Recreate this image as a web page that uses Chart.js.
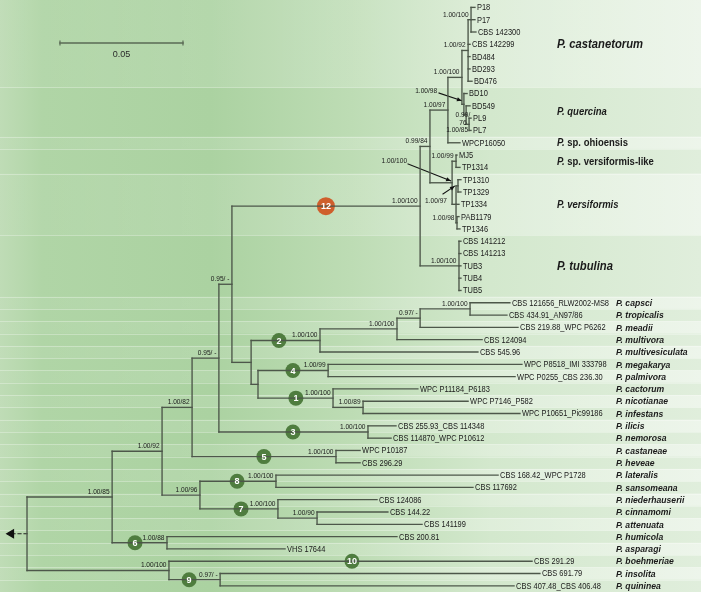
<!DOCTYPE html>
<html><head><meta charset="utf-8">
<script src="https://cdn.jsdelivr.net/npm/chart.js@4/dist/chart.umd.min.js"></script>
<style>html,body{margin:0;padding:0;background:#fff}canvas{display:block}</style>
</head><body>
<canvas id="c" width="701" height="592"></canvas>
<script>
// ---------------- DATA ----------------
const leafNames = ["P18","P17","CBS 142300","CBS 142299","BD484","BD293","BD476","BD10","BD549","PL9","PL7","WPCP16050","MJ5","TP1314","TP1310","TP1329","TP1334","PAB1179","TP1346","CBS 141212","CBS 141213","TUB3","TUB4","TUB5","CBS 121656_RLW2002-MS8","CBS 434.91_AN97/86","CBS 219.88_WPC P6262","CBS 124094","CBS 545.96","WPC P8518_IMI 333798","WPC P0255_CBS 236.30","WPC P11184_P6183","WPC P7146_P582","WPC P10651_Pic99186","CBS 255.93_CBS 114348","CBS 114870_WPC P10612","WPC P10187","CBS 296.29","CBS 168.42_WPC P1728","CBS 117692","CBS 124086","CBS 144.22","CBS 141199","CBS 200.81","VHS 17644","CBS 291.29","CBS 691.79","CBS 407.48_CBS 406.48"];
// cumulative distance from root (substitutions/site)
const leafDepths = [0.1821,0.1821,0.1825,0.1801,0.1801,0.1801,0.1809,0.1789,0.1801,0.1805,0.1805,0.1760,0.1748,0.1760,0.1764,0.1764,0.1756,0.1756,0.1760,0.1764,0.1764,0.1764,0.1764,0.1764,0.1963,0.1951,0.1996,0.1850,0.1833,0.2012,0.1984,0.1589,0.1793,0.2004,0.1500,0.1480,0.1354,0.1354,0.1915,0.1813,0.1423,0.1467,0.1606,0.1504,0.1049,0.2053,0.2085,0.1980];
// species for leaves 24..47
const speciesNames = ["capsci","tropicalis","meadii","multivora","multivesiculata","megakarya","palmivora","cactorum","nicotianae","infestans","ilicis","nemorosa","castaneae","heveae","lateralis","sansomeana","niederhauserii","cinnamomi","attenuata","humicola","asparagi","boehmeriae","insolita","quininea"];
const speciesFirstLeaf = 24;
// clade labels for the upper part
const cladeNames = ["castanetorum","quercina","sp. ohioensis","sp. versiformis-like","versiformis","tubulina"];
const cladeFirstLeaf = [0,7,11,12,14,19];
const cladeLastLeaf = [6,10,11,13,18,23];

const nodeIds = ["root","A","B","C","D","E","F","G","N","n2","P","Q","R","n4","n1","n1b","n3","n5","n8","n7","n7b","n6","bot","n9","n12","H","L","K","cast","c1","querc","q1","q2","M","mv","vers","vs1","vs2","tub"];
const nodeDepths = [0,0.0346,0.0549,0.0671,0.0703,0.0780,0.0833,0.0911,0.0939,0.1191,0.1504,0.1598,0.1801,0.1224,0.1244,0.1366,0.1386,0.1256,0.1012,0.1020,0.1179,0.0569,0.0577,0.0785,0.1598,0.1638,0.1711,0.1768,0.1793,0.1805,0.1776,0.1785,0.1797,0.1728,0.1744,0.1744,0.1752,0.1748,0.1756];
const nodeSupports = ["","1.00/85","1.00/92","1.00/82","1.00/96","0.95/ -","0.95/ -","","","1.00/100","1.00/100","0.97/ -","1.00/100","1.00/99","1.00/100","1.00/89","1.00/100","1.00/100","1.00/100","1.00/100","1.00/90","1.00/88","1.00/100","0.97/ -","1.00/100","0.99/84","1.00/97","1.00/100","1.00/92","1.00/100","1.00/98","0.99/76","1.00/85","1.00/100","1.00/99","1.00/97","","1.00/98","1.00/100"];
const nodeKids = [["A","bot"],["B","n6"],["C","D"],["E","n5"],["n8","n7"],["F","n3"],["n12","G"],["n2","N"],["n4","n1"],["P",28],["Q",27],["R",26],[24,25],[29,30],[31,"n1b"],[32,33],[34,35],[36,37],[38,39],[40,"n7b"],[41,42],[43,44],[45,"n9"],[46,47],["H","tub"],["L","M"],["K",11],["cast","querc"],["c1",3,4,5,6],[0,1,2],[7,"q1"],[8,"q2"],[9,10],["mv","vers"],[12,13],["vs1",16,"vs2"],[14,15],[17,18],[19,20,21,22,23]];

// numbered clade markers
const markerLabels = ["12","2","4","1","3","5","8","7","6","10","9"];
const markerOn = ["n12","n2","n4","n1","n3","n5","n8","n7","n6",45,"n9"];
const markerDepths = [0.1215,0.1024,0.1081,0.1093,0.1081,0.0963,0.0854,0.0870,0.0439,0.1321,0.0659];

const scaleBarLength = 0.05;

// ---------------- LAYOUT (not data) ----------------
const L = {
  xMin: -0.01098, xMax: 0.27398, yMin: -0.6, yMax: 47.5,
  speciesX: 0.2394, cladeX: 0.2154,
  scaleBarX: 0.0134, scaleBarRow: 2.894, scaleLabelRow: 3.79,
  rootArrowX: -0.0064,
  special: {
    querc: {x:0.1667,row:6.79,align:"right",arrow:[0.1675,6.96,0.1766,7.58]},
    q1: {x:0.1772,row:8.74,align:"center",lines:["0.99/","76"],dRow:0.65},
    q2: {x:0.1793,row:10.0,align:"right"},
    M: {x:0.1545,row:12.48,align:"right",arrow:[0.1549,12.73,0.1722,14.09]},
    vers: {x:0.1707,row:15.73,align:"right",arrow:[0.1691,15.16,0.1738,14.53]}
  }
};

// ---------------- TREE GEOMETRY ----------------
const nodeIdx = {}; nodeIds.forEach((id,i)=>nodeIdx[id]=i);
const rowOf = {}; 
function getRow(ref){
  if (typeof ref === "number") return ref;
  if (rowOf[ref] !== undefined) return rowOf[ref];
  const kids = nodeKids[nodeIdx[ref]];
  const r = (getRow(kids[0]) + getRow(kids[kids.length-1]))/2;
  rowOf[ref] = r; return r;
}
function getDepth(ref){ return typeof ref === "number" ? leafDepths[ref] : nodeDepths[nodeIdx[ref]]; }

const LINE = "#4d574a";
const datasets = [];
nodeIds.forEach((id,i)=>{
  const kids = nodeKids[i];
  const d = nodeDepths[i];
  datasets.push({data:[{x:d,y:getRow(kids[0])},{x:d,y:getRow(kids[kids.length-1])}]});
  kids.forEach(k=>{
    datasets.push({data:[{x:d,y:getRow(k)},{x:getDepth(k),y:getRow(k)}]});
  });
});
datasets.forEach(ds=>Object.assign(ds,{showLine:true,borderColor:LINE,borderWidth:1.35,pointRadius:0,fill:false,tension:0}));

// arrows for support labels
Object.keys(L.special).forEach(k=>{
  const a = L.special[k].arrow; if(!a) return;
  datasets.push({data:[{x:a[0],y:a[1]},{x:a[2],y:a[3]}],showLine:true,borderColor:"#111",borderWidth:1.1,pointRadius:0});
});
// root dashed arrow
datasets.push({data:[{x:0,y:getRow("root")},{x:L.rootArrowX,y:getRow("root")}],showLine:true,borderColor:"#222",borderWidth:1.2,borderDash:[3,3],pointRadius:[0,4.5],pointStyle:"triangle",rotation:270,pointBackgroundColor:"#111",pointBorderColor:"#111"});
// scale bar
datasets.push({data:[{x:L.scaleBarX,y:L.scaleBarRow},{x:L.scaleBarX+scaleBarLength,y:L.scaleBarRow}],showLine:true,borderColor:"#5a6a55",borderWidth:1.5,pointStyle:"line",rotation:90,pointRadius:2.5,pointBorderColor:"#5a6a55",pointBorderWidth:1.2});
// markers
datasets.push({data:markerOn.map((m,i)=>({x:markerDepths[i],y:getRow(m)})),showLine:false,
  pointRadius:markerLabels.map(l=>l==="12"?9:7.5),
  pointBackgroundColor:markerLabels.map(l=>l==="12"?"#cf5f2c":"#4f7d3f"),
  pointBorderColor:markerLabels.map(l=>l==="12"?"#cf5f2c":"#4f7d3f"),pointBorderWidth:0});

// ---------------- PLUGINS ----------------
function txt(ctx,s,x,y,font,align,sx,color){
  ctx.save(); ctx.font=font; ctx.fillStyle=color||"#1b1b1b"; ctx.textAlign=align; ctx.textBaseline="middle";
  ctx.translate(x,y); ctx.scale(sx,1); ctx.fillText(s,0,0); ctx.restore();
}
const bgPlugin = {id:"bg", beforeDraw(chart){
  const ctx=chart.ctx, W=chart.width, H=chart.height, ys=chart.scales.y;
  const g=ctx.createLinearGradient(0,0,W,0);
  g.addColorStop(0,"#bfdcb6"); g.addColorStop(0.06,"#b0d5a6"); g.addColorStop(0.3,"#abd2a1");
  g.addColorStop(0.5,"#bddcb4"); g.addColorStop(0.7,"#d3e8cd"); g.addColorStop(1,"#e0eedc");
  ctx.fillStyle=g; ctx.fillRect(0,0,W,H);
  const bounds=[L.yMin,6.5,10.5,11.5,13.5,18.5,23.5];
  for(let r=24.5;r<=47.5;r+=1) bounds.push(r);
  for(let i=0;i<bounds.length-1;i++){
    const y0=ys.getPixelForValue(bounds[i]), y1=ys.getPixelForValue(bounds[i+1]);
    const light = i<6 ? (i%2===0) : ((i-6)%2===0);
    if(light){
      const w=ctx.createLinearGradient(0,0,W,0);
      w.addColorStop(0,"rgba(255,255,255,0.04)"); w.addColorStop(0.5,"rgba(255,255,255,0.16)"); w.addColorStop(1,"rgba(255,255,255,0.42)");
      ctx.fillStyle=w; ctx.fillRect(0,y0,W,y1-y0);
    }
    if(i>0){ ctx.fillStyle="rgba(255,255,255,0.3)"; ctx.fillRect(0,Math.round(y0),W,1); }
  }
}};
const textPlugin = {id:"txt", afterDatasetsDraw(chart){
  const ctx=chart.ctx, xs=chart.scales.x, ys=chart.scales.y;
  const px=v=>xs.getPixelForValue(v), py=v=>ys.getPixelForValue(v);
  const F='"Liberation Sans", Arial, sans-serif';
  leafNames.forEach((n,i)=>txt(ctx,n,px(leafDepths[i])+2,py(i)+0.5,"8.8px "+F,"left",0.85));
  speciesNames.forEach((s,i)=>txt(ctx,"P. "+s,px(L.speciesX),py(i+speciesFirstLeaf)+0.5,"italic bold 9.8px "+F,"left",0.88));
  cladeNames.forEach((c,i)=>{
    const big = (c==="castanetorum"||c==="tubulina");
    const size = big?12.8:10.8;
    const row=(cladeFirstLeaf[i]+cladeLastLeaf[i])/2;
    const x=px(L.cladeX), y=py(row)+0.5;
    ctx.save(); ctx.font="italic bold "+size+"px "+F; const w1=ctx.measureText("P. ").width*0.88; ctx.restore();
    txt(ctx,"P. ",x,y,"italic bold "+size+"px "+F,"left",0.88);
    txt(ctx,c,x+w1,y,(c.startsWith("sp.")?"":"italic ")+"bold "+size+"px "+F,"left",0.88);
  });
  nodeIds.forEach((id,i)=>{
    const s=nodeSupports[i]; if(!s) return;
    const sp=L.special[id]; const f="7.3px "+F;
    if(sp){
      if(sp.lines){ sp.lines.forEach((ln,j)=>txt(ctx,ln,px(sp.x),py(sp.row+j*sp.dRow),f,sp.align,0.9)); }
      else txt(ctx,s,px(sp.x),py(sp.row),f,sp.align,0.9);
      return;
    }
    txt(ctx,s,px(nodeDepths[i])-2.5,py(getRow(id))-5,f,"right",0.9);
  });
  Object.keys(L.special).forEach(k=>{
    const a=L.special[k].arrow; if(!a) return;
    const x0=px(a[0]),y0=py(a[1]),x1=px(a[2]),y1=py(a[3]);
    const ang=Math.atan2(y1-y0,x1-x0), s=5;
    ctx.save(); ctx.fillStyle="#111"; ctx.beginPath();
    ctx.moveTo(x1,y1);
    ctx.lineTo(x1-s*Math.cos(ang-0.45),y1-s*Math.sin(ang-0.45));
    ctx.lineTo(x1-s*Math.cos(ang+0.45),y1-s*Math.sin(ang+0.45));
    ctx.closePath(); ctx.fill(); ctx.restore();
  });
  markerOn.forEach((m,i)=>txt(ctx,markerLabels[i],px(markerDepths[i]),py(getRow(m))+0.5,"bold 9.5px "+F,"center",0.95,"#ffffff"));
  txt(ctx,"0.05",px(L.scaleBarX+scaleBarLength/2),py(L.scaleLabelRow),"9px "+F,"center",1,"#2a2a2a");
}};

new Chart(document.getElementById("c"),{
  type:"scatter",
  data:{datasets},
  options:{
    responsive:false, animation:false, devicePixelRatio:1,
    layout:{padding:0, autoPadding:false},
    plugins:{legend:{display:false},tooltip:{enabled:false}},
    scales:{
      x:{type:"linear",display:false,min:L.xMin,max:L.xMax},
      y:{type:"linear",display:false,reverse:true,min:L.yMin,max:L.yMax}
    },
    elements:{line:{borderCapStyle:"square"}}
  },
  plugins:[bgPlugin,textPlugin]
});
</script>
</body></html>
